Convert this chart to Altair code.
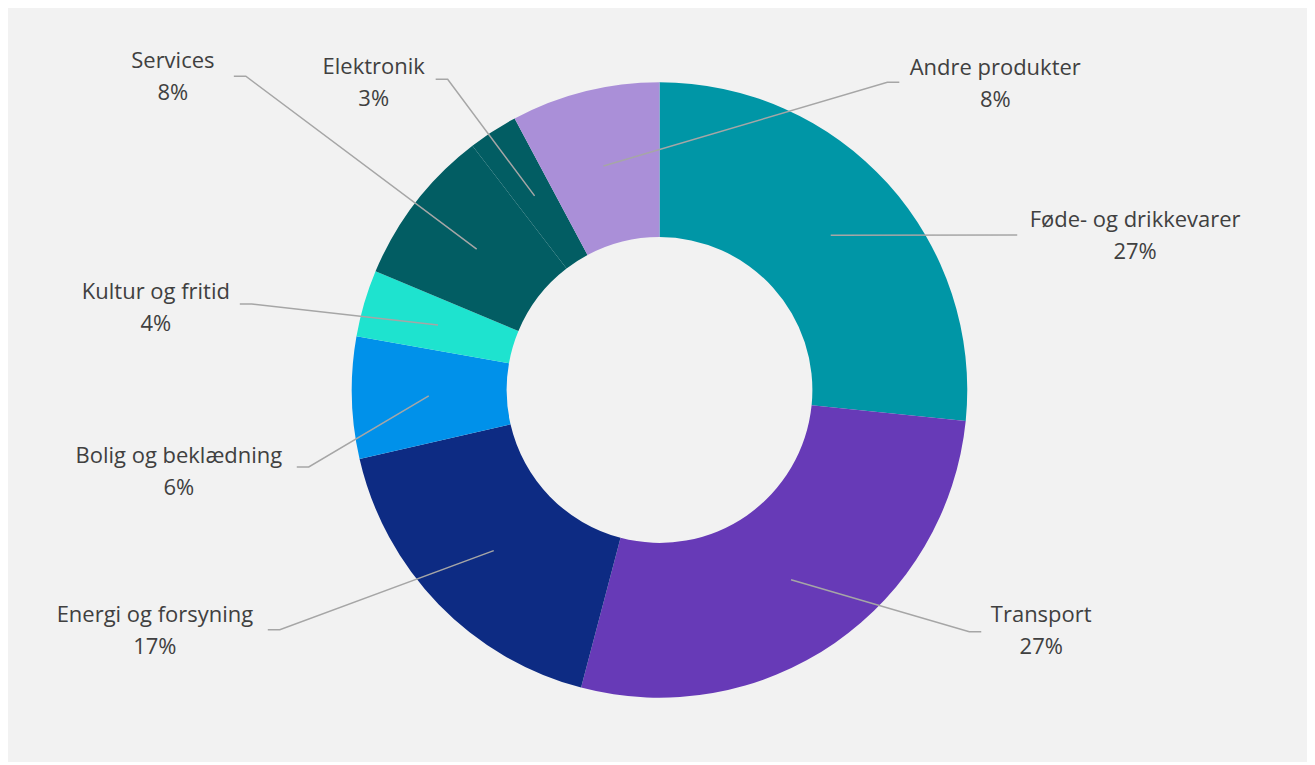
import math
import altair as alt
import pandas as pd

# ---- data ----
categories = ["Føde- og drikkevarer", "Transport", "Energi og forsyning",
              "Bolig og beklædning", "Kultur og fritid", "Services",
              "Elektronik", "Andre produkter"]
shares = [26.6, 27.5, 17.3, 6.4, 3.5, 8.3, 2.6, 7.8]
pct_labels = ["27%", "27%", "17%", "6%", "4%", "8%", "3%", "8%"]

# ---- styling / layout ----
colors = ["#0096A6", "#673AB7", "#0D2B83", "#0091EA", "#1EE3CF",
          "#025D63", "#025D63", "#AA8FD8"]
# label centre (name line) and leader-line attach point, relative to donut centre
label_xy = [(476, 170), (382, -225), (-505, -225), (-481, -66),
            (-504, 98), (-487, 329), (-286, 323), (336, 322)]
attach_xy = [(358, 155), (322, -242), (-392, -240), (-363, -77),
             (-420, 86), (-426, 314), (-224, 311), (240, 308)]
OUTER, INNER, LEADER_R = 308, 153, 231
W, H = 1300, 754
xs = alt.Scale(domain=[-652, W - 652])
ys = alt.Scale(domain=[-(H - 382), 382])

# ---- build tables ----
total = sum(shares)
rows, seg, lab = [], [], []
cum = 0.0
for i, (c, v) in enumerate(zip(categories, shares)):
    t0, t1 = cum / total * 100, (cum + v) / total * 100
    cum += v
    rows.append(dict(cat=c, t0=t0, t1=t1, cx=0, cy=0))
    mid = (t0 + t1) / 2 / 100 * 2 * math.pi
    sx, sy = LEADER_R * math.sin(mid), LEADER_R * math.cos(mid)
    ax, ay = attach_xy[i]
    ex = ax + (12 if ax < 0 else -12)
    if abs(sy - ay) < 3:
        ex = ax
    for k, (px, py) in enumerate([(sx, sy), (ex, ay), (ax, ay)]):
        seg.append(dict(cat=c, k=k, x=px, y=py))
    lx, ly = label_xy[i]
    lab.append(dict(cat=c, pct=pct_labels[i], x=lx, y=ly))

arcs = pd.DataFrame(rows)
segs = pd.DataFrame(seg)
labs = pd.DataFrame(lab)

arc = alt.Chart(arcs).mark_arc(outerRadius=OUTER, innerRadius=INNER, stroke=None).encode(
    x=alt.X("cx:Q", scale=xs, axis=None),
    y=alt.Y("cy:Q", scale=ys, axis=None),
    theta=alt.Theta("t0:Q", scale=alt.Scale(domain=[0, 100], range=[0, 2 * math.pi]), stack=None),
    theta2="t1:Q",
    color=alt.Color("cat:N", scale=alt.Scale(domain=categories, range=colors), legend=None),
)

lines = alt.Chart(segs).mark_line(color="#A6A6A6", strokeWidth=1.5).encode(
    x=alt.X("x:Q", scale=xs, axis=None),
    y=alt.Y("y:Q", scale=ys, axis=None),
    detail="cat:N",
    order="k:Q",
)

font = "Open Sans, sans-serif"
FS = 22
names = alt.Chart(labs).mark_text(font=font, fontSize=FS, color="#404040",
                                  align="center", baseline="middle").encode(
    x=alt.X("x:Q", scale=xs, axis=None),
    y=alt.Y("y:Q", scale=ys, axis=None),
    text="cat:N",
)
pcts = alt.Chart(labs).mark_text(font=font, fontSize=FS, color="#404040",
                                 align="center", baseline="middle", dy=32).encode(
    x=alt.X("x:Q", scale=xs, axis=None),
    y=alt.Y("y:Q", scale=ys, axis=None),
    text="pct:N",
)

chart = alt.layer(arc, lines, names, pcts).properties(
    width=W, height=H, padding=0, autosize=alt.AutoSizeParams(type="none"),
    background="#F2F2F2",
).configure_view(stroke=None)

chart.save("out.html", embed_options={"renderer": "svg", "actions": False})
